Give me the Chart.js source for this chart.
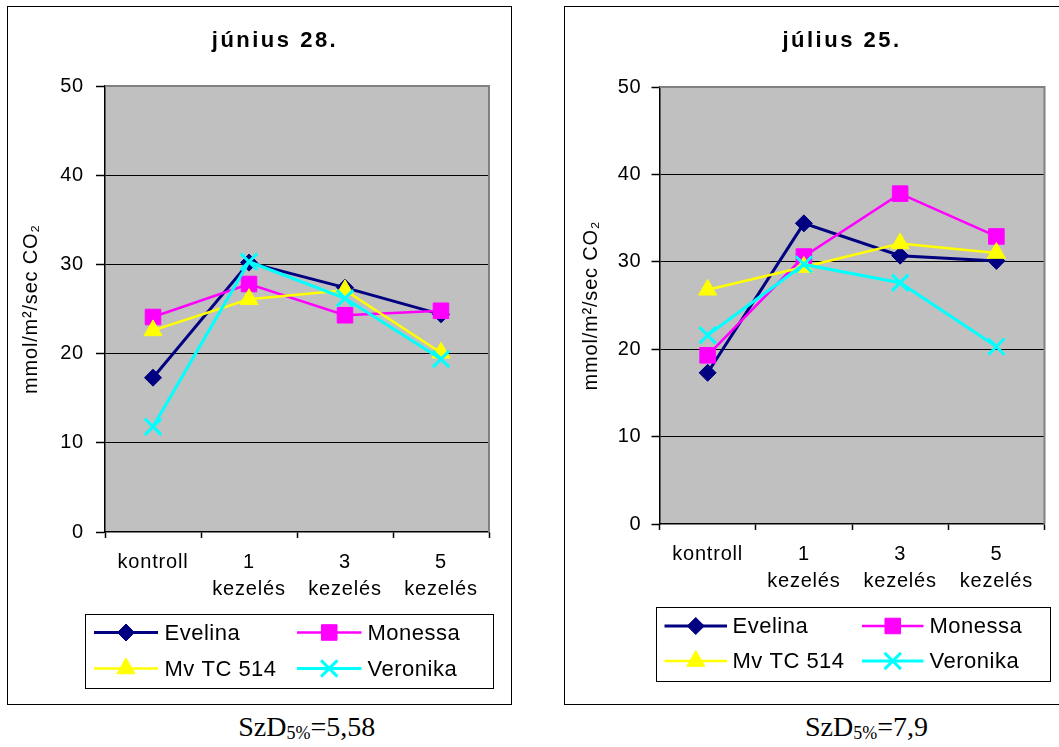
<!DOCTYPE html>
<html><head><meta charset="utf-8">
<script src="https://cdn.jsdelivr.net/npm/chart.js@4.4.0/dist/chart.umd.min.js"></script>
<style>
body{margin:0;background:#fff;width:1059px;height:747px;overflow:hidden;position:relative;font-family:"Liberation Sans",Arial,sans-serif}
.box{position:absolute;border:1px solid #000;box-sizing:border-box;background:#fff}
canvas{position:absolute}
.szd{position:absolute;font-family:"Liberation Serif","Times New Roman",serif;font-size:28px;white-space:nowrap;line-height:28px;color:#000}
.szd sub{font-size:18px;vertical-align:baseline;position:relative;top:3px}
</style>
</head><body>
<div class="box" style="left:7px;top:6px;width:505px;height:699px"></div>
<div class="box" style="left:564px;top:6px;width:505px;height:699px"></div>
<canvas id="c1" width="504" height="698" style="left:7px;top:6px"></canvas>
<canvas id="c2" width="495" height="698" style="left:564px;top:6px"></canvas>
<div class="szd" style="left:306.7px;top:713px;transform:translateX(-50%)">SzD<sub>5%</sub>=5,58</div>
<div class="szd" style="left:805px;top:713px">SzD<sub>5%</sub>=7,9</div>
<script>
// ---- data ----
const categories = ['kontroll', ['1', 'kezelés'], ['3', 'kezelés'], ['5', 'kezelés']];
const seriesNames = ['Evelina', 'Monessa', 'Mv TC 514', 'Veronika'];
const yTicks = [0, 10, 20, 30, 40, 50];
const titles = ['június 28.', 'július 25.'];
const yAxisTitle = 'mmol/m²/sec CO₂';

const junEvelina  = [17.3, 30.2, 27.4, 24.4];
const junMonessa  = [24.1, 27.8, 24.3, 24.8];
const junMvTC514  = [22.6, 26.1, 27.1, 20.1];
const junVeronika = [11.8, 30.3, 26.2, 19.4];

const julEvelina  = [17.3, 34.4, 30.7, 30.1];
const julMonessa  = [19.3, 30.6, 37.8, 32.9];
const julMvTC514  = [26.8, 29.4, 32.1, 31.0];
const julVeronika = [21.6, 29.7, 27.6, 20.3];

// ---- styles ----
const FONT = '"Liberation Sans", Arial, sans-serif';
const LS = '0.8px';
const styles = [
  {color:'#000080', point:'rectRot',  r:8.5, pbw:1, lw:3},
  {color:'#FF00FF', point:'rect',     r:11,  pbw:1, lw:2.5},
  {color:'#FFFF00', point:'triangle', r:10.5,pbw:1, lw:2.5},
  {color:'#00FFFF', point:'crossRot', r:11.5,pbw:3, lw:3}
];

function makeDatasets(arrs){
  return arrs.map((d,i)=>{
    const s = styles[i];
    return {
      label: seriesNames[i], data: d,
      borderColor: s.color, backgroundColor: s.color,
      pointStyle: s.point, pointRadius: s.r, pointHoverRadius: s.r,
      pointBackgroundColor: s.color, pointBorderColor: s.color,
      pointBorderWidth: s.pbw, borderWidth: s.lw, tension: 0,
      order: 4 - i, clip: false
    };
  });
}

function drawMarker(ctx, style, x, y){
  ctx.save();
  ctx.fillStyle = style.color; ctx.strokeStyle = style.color; ctx.lineWidth = style.pbw;
  if (Chart.helpers && Chart.helpers.drawPoint) {
    Chart.helpers.drawPoint(ctx, {pointStyle: style.point, radius: style.r, borderWidth: style.pbw, rotation: 0}, x, y);
  } else {
    ctx.beginPath();
    const r = style.r;
    if (style.point === 'rectRot') { ctx.moveTo(x,y-r);ctx.lineTo(x+r,y);ctx.lineTo(x,y+r);ctx.lineTo(x-r,y);ctx.closePath();ctx.fill(); }
    else if (style.point === 'rect') { const s=r*Math.SQRT1_2; ctx.rect(x-s,y-s,2*s,2*s); ctx.fill(); }
    else if (style.point === 'triangle') { ctx.moveTo(x,y-r);ctx.lineTo(x+r*0.866,y+r/2);ctx.lineTo(x-r*0.866,y+r/2);ctx.closePath();ctx.fill(); }
    else { const s=r*Math.SQRT1_2; ctx.moveTo(x-s,y-s);ctx.lineTo(x+s,y+s);ctx.moveTo(x+s,y-s);ctx.lineTo(x-s,y+s);ctx.stroke(); }
  }
  ctx.restore();
}

const excelPlugin = {
  id: 'excelLook',
  beforeUpdate(chart){ chart.ctx.letterSpacing = LS; },
  beforeLayout(chart){ chart.ctx.letterSpacing = LS; },
  beforeDraw(chart){
    const {ctx, chartArea:a} = chart;
    ctx.letterSpacing = LS;
    ctx.save();
    ctx.fillStyle = '#C0C0C0';
    ctx.fillRect(a.left, a.top, a.right - a.left, a.bottom - a.top);
    ctx.restore();
  },
  beforeDatasetsDraw(chart){
    const {ctx, chartArea:a} = chart;
    ctx.save();
    ctx.strokeStyle = '#808080'; ctx.lineWidth = 2;
    ctx.beginPath();
    ctx.moveTo(a.left, a.top); ctx.lineTo(a.right, a.top); ctx.lineTo(a.right, a.bottom);
    ctx.stroke();
    ctx.restore();
  },
  afterDraw(chart, args, opts){
    const ctx = chart.ctx;
    // title
    ctx.save();
    ctx.letterSpacing = '2.5px';
    ctx.font = 'bold 22px ' + FONT;
    ctx.fillStyle = '#000'; ctx.textAlign = 'center'; ctx.textBaseline = 'middle';
    ctx.fillText(opts.title, opts.titleX, opts.titleY);
    ctx.restore();
    // legend
    const L = opts.legend;
    ctx.save();
    ctx.fillStyle = '#fff';
    ctx.fillRect(L.box[0], L.box[1], L.box[2], L.box[3]);
    ctx.strokeStyle = '#000'; ctx.lineWidth = 1;
    ctx.strokeRect(Math.round(L.box[0])+0.5, Math.round(L.box[1])+0.5, Math.round(L.box[2]), Math.round(L.box[3]));
    seriesNames.forEach((name, i) => {
      const row = Math.floor(i/2), col = i % 2;
      const y = L.rows[row], c = L.cols[col], s = styles[i];
      ctx.strokeStyle = s.color; ctx.lineWidth = s.lw;
      ctx.beginPath(); ctx.moveTo(c.line[0], y); ctx.lineTo(c.line[1], y); ctx.stroke();
      drawMarker(ctx, s, (c.line[0]+c.line[1])/2, y);
      ctx.save();
      ctx.letterSpacing = '0.5px';
      ctx.font = '22px ' + FONT; ctx.fillStyle = '#000';
      ctx.textAlign = 'left'; ctx.textBaseline = 'middle';
      ctx.fillText(name, c.text, y + 1);
      ctx.restore();
    });
    ctx.restore();
  }
};

function makeChart(id, arrs, cfg){
  return new Chart(document.getElementById(id), {
    type: 'line',
    data: { labels: categories, datasets: makeDatasets(arrs) },
    plugins: [excelPlugin],
    options: {
      responsive: false, animation: false, devicePixelRatio: 1,
      layout: { padding: cfg.padding },
      plugins: {
        legend: { display: false }, title: { display: false }, tooltip: { enabled: false },
        excelLook: { title: cfg.title, titleX: cfg.titleX, titleY: cfg.titleY, legend: cfg.legend }
      },
      scales: {
        x: {
          type: 'category', offset: true,
          grid: { offset: true, drawOnChartArea: false, tickLength: 6, tickColor: '#000', tickWidth: 1.5 },
          border: { color: '#000', width: 1.5 },
          ticks: { color: '#000', font: { family: FONT, size: 20, lineHeight: 1.35 }, padding: 10.5, maxRotation: 0, autoSkip: false },
          afterFit: s => { s.height = 70; }
        },
        y: {
          min: yTicks[0], max: yTicks[yTicks.length-1],
          afterBuildTicks: s => { s.ticks = yTicks.map(v => ({value: v})); },
          grid: {
            color: c => (c.tick && c.tick.value > yTicks[0] && c.tick.value < yTicks[yTicks.length-1]) ? '#000' : 'rgba(0,0,0,0)',
            lineWidth: 1, tickColor: '#000', tickLength: cfg.yTickLen, tickWidth: 1.5
          },
          border: { color: '#000', width: 1.5 },
          ticks: { color: '#000', font: { family: FONT, size: 20 }, padding: cfg.yPad },
          title: { display: true, text: yAxisTitle, color: '#000', font: { family: FONT, size: 20 }, padding: { top: cfg.yTitlePad, bottom: 0 } },
          afterFit: s => { s.width = cfg.yWidth; }
        }
      }
    }
  });
}

makeChart('c1', [junEvelina, junMonessa, junMvTC514, junVeronika], {
  padding: { left: 0, top: 80, right: 22, bottom: 102 },
  yWidth: 98, yPad: 12, yTickLen: 9, yTitlePad: 12,
  title: titles[0], titleX: 268, titleY: 35,
  legend: { box: [77.5, 607.5, 407.5, 73.5], rows: [626.5, 662.5],
            cols: [ {line: [87, 151], text: 157.5}, {line: [290, 354.5], text: 360.5} ] }
});
makeChart('c2', [julEvelina, julMonessa, julMvTC514, julVeronika], {
  padding: { left: 0, top: 81, right: 13, bottom: 110 },
  yWidth: 95.5, yPad: 10, yTickLen: 8, yTitlePad: 15,
  title: titles[1], titleX: 278, titleY: 35,
  legend: { box: [91.5, 601, 393.5, 73.5], rows: [620, 655],
            cols: [ {line: [100.5, 163], text: 168.5}, {line: [298, 359.5], text: 365.5} ] }
});
</script>
</body></html>
